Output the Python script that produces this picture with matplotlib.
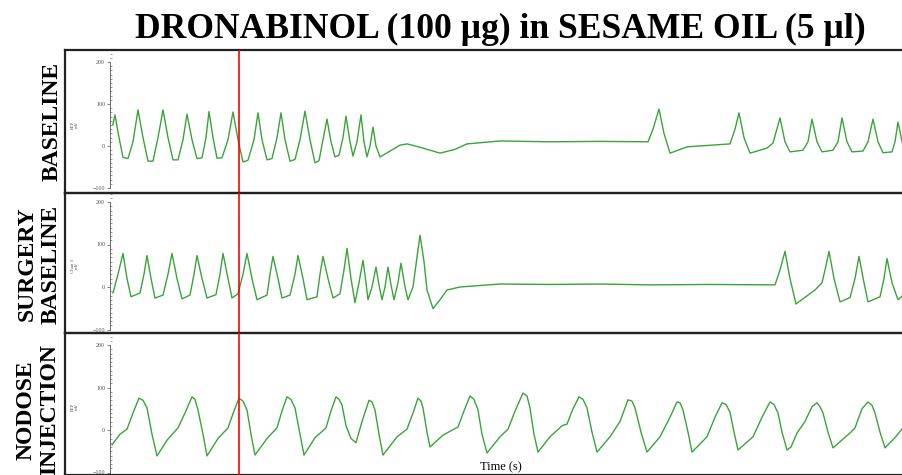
import matplotlib
matplotlib.use('Agg')
import matplotlib.pyplot as plt
from matplotlib.ticker import MultipleLocator

# traces: time (s), signal (uV)
base_t = [0.14, 0.25, 0.45, 0.65, 0.9, 1.15, 1.4, 1.65, 1.9, 2.15, 2.4, 2.65, 2.9, 3.15, 3.4, 3.65,
          3.85, 4.1, 4.35, 4.6, 4.8, 4.95, 5.15, 5.35, 5.6, 5.9, 6.15, 6.4, 6.65, 6.9, 7.2, 7.4,
          7.6, 7.85, 8.1, 8.35, 8.55, 8.75, 9.0, 9.25, 9.5, 9.75, 10.0, 10.25, 10.45, 10.65, 10.85,
          11.05, 11.25, 11.45, 11.65, 11.8, 12.0, 12.15, 12.35, 12.55, 12.7, 12.85, 13.0, 13.15,
          13.3, 13.5, 13.9, 14.5, 14.85, 15.5, 16.5, 17.25, 17.85, 19.5, 22.0, 24.5, 26.9, 27.15,
          27.45, 27.7, 28.0, 28.85, 31.0, 31.25, 31.45, 31.7, 32.0, 32.85, 33.15, 33.5, 33.75, 34.0,
          34.65, 34.9, 35.1, 35.35, 35.6, 36.15, 36.4, 36.6, 36.85, 37.1, 37.65, 37.9, 38.15, 38.4,
          38.65, 39.1, 39.25, 39.4, 39.65]
base_v = [50, 74, 20, -27, -30, 10, 86, 20, -36, -36, 20, 86, 20, -33, -33, 15,
          76, 15, -30, -28, 20, 82, 20, -29, -28, 15, 81, 15, -38, -34, 15, 79,
          15, -33, -30, 20, 79, 15, -36, -32, 15, 83, 15, -40, -35, 15, 64,
          10, -26, -22, 20, 71, 10, -24, 10, 74, 10, -26, 0, 45,
          0, -26, -15, 2, 5, -3, -17, -8, 5, 12, 10, 11, 10, 40,
          88, 30, -17, -2, 5, 40, 79, 20, -17, -5, 7, 67, 10, -14,
          -10, 10, 64, 10, -14, -10, 10, 67, 10, -14, -12, 10, 64, 10,
          -16, -14, 10, 57, 0]

surg_t = [0.15, 0.4, 0.65, 0.85, 1.05, 1.5, 1.7, 1.85, 2.05, 2.25, 2.65, 2.9, 3.1, 3.35, 3.6, 4.0,
          4.2, 4.35, 4.6, 4.85, 5.3, 5.5, 5.65, 5.9, 6.1, 6.4, 6.65, 6.85, 7.1, 7.35, 7.85, 8.0,
          8.15, 8.4, 8.6, 9.0, 9.25, 9.4, 9.65, 9.85, 10.35, 10.5, 10.65, 10.9, 11.15, 11.5, 11.7,
          11.85, 12.05, 12.25, 12.45, 12.65, 12.8, 12.9, 13.1, 13.3, 13.45, 13.6, 13.75, 13.9,
          14.05, 14.2, 14.4, 14.55, 14.75, 14.9, 15.15, 15.35, 15.5, 15.7, 15.85, 16.15, 16.5,
          16.85, 17.5, 19.5, 22.0, 24.5, 27.0, 30.0, 33.25, 33.5, 33.75, 34.0, 34.3, 35.25, 35.6,
          35.8, 35.95, 36.2, 36.5, 37.0, 37.25, 37.45, 37.7, 37.9, 38.5, 38.7, 38.85, 39.1, 39.4,
          39.65]
surg_v = [-14, 30, 79, 20, -23, -14, 30, 74, 20, -26, -19, 30, 79, 20, -28, -19,
          30, 74, 20, -26, -18, 30, 79, 20, -26, -16, 30, 79, 20, -30, -19, 30,
          72, 20, -26, -19, 30, 74, 20, -30, -23, 30, 72, 20, -26, -16, 40,
          91, 20, -37, 10, 63, 10, -30, 0, 47, 5, -30, 0, 47,
          5, -30, 10, 56, 0, -30, 0, 70, 122, 60, -7, -51, -30,
          -7, 0, 7, 6, 7, 5, 6, 5, 40, 84, 20, -40, -7, 10,
          50, 84, 20, -35, -25, 20, 72, 10, -35, -23, 20, 67, 10, -30,
          -20]

nod_t = [0.1, 0.5, 0.85, 1.15, 1.45, 1.65, 1.85, 2.1, 2.35, 2.85, 3.4, 3.75, 4.1, 4.25, 4.4, 4.65,
         4.85, 5.4, 5.9, 6.2, 6.45, 6.65, 6.85, 7.05, 7.25, 7.85, 8.35, 8.6, 8.85, 9.05, 9.25, 9.5,
         9.7, 10.25, 10.8, 11.05, 11.3, 11.45, 11.6, 11.8, 12.05, 12.3, 12.6, 12.95, 13.1, 13.25,
         13.45, 13.65, 14.35, 14.85, 15.15, 15.4, 15.55, 15.65, 15.85, 16.0, 16.65, 17.4, 17.7,
         18.0, 18.2, 18.4, 18.6, 18.85, 19.5, 19.9, 20.3, 20.65, 20.85, 21.0, 21.2, 21.4, 22.0,
         22.6, 22.85, 23.15, 23.45, 23.65, 23.85, 24.1, 24.35, 25.0, 25.5, 25.9, 26.1, 26.25,
         26.55, 26.85, 27.5, 28.0, 28.35, 28.5, 28.65, 28.9, 29.1, 29.85, 30.25, 30.6, 30.8, 31.0,
         31.2, 31.4, 32.15, 32.6, 33.0, 33.2, 33.4, 33.6, 33.85, 34.05, 34.35, 34.75, 35.1, 35.35,
         35.5, 35.65, 35.9, 36.15, 37.0, 37.25, 37.6, 37.9, 38.1, 38.25, 38.5, 38.75, 39.25, 39.65]
nod_v = [-35, -10, 2, 40, 75, 70, 52, -10, -61, -24, 5, 40, 78, 72, 47, -10,
         -61, -20, 5, 45, 75, 68, 47, -10, -59, -20, 5, 45, 78, 72, 52, -10,
         -59, -18, 5, 45, 78, 72, 59, 10, -20, -30, 20, 70, 66, 47,
         -10, -59, -16, 2, 40, 75, 68, 52, -5, -40, -12, 7, 45,
         80, 72, 47, -10, -54, -16, 2, 50, 87, 80, 52, -10, -52, -16,
         10, 14, 50, 78, 72, 52, -5, -52, -16, 20, 71, 68, 52,
         -5, -52, -16, 30, 66, 64, 47, -5, -52, -16, 30, 64, 60, 42,
         -5, -47, -16, 30, 66, 60, 40, -5, -47, -40, -7, 20, 55, 64,
         55, 40, -5, -42, -7, 5, 50, 66, 58, 40, -5, -42, -18, 5]

row_labels = ['BASELINE', 'SURGERY\nBASELINE', 'NODOSE\nINJECTION']
chan_labels = ['EEP\nmV', 'Chan 3\nmV', 'EEP\nmV']
marker_time = 6.45
title = 'DRONABINOL (100 \u00b5g) in SESAME OIL (5 \u00b5l)'

W, H = 903, 475
serif = 'Liberation Serif'

fig = plt.figure(figsize=(W / 100, H / 100), dpi=100)

tops = [50, 193, 333]
bottoms = [193, 333, 475]
zeros = [146, 287, 430]
px_per_uv = [0.42, 0.425, 0.425]
label_x = [52, 39, 38]
label_y = [121, 264, 410]
traces = [(base_t, base_v), (surg_t, surg_v), (nod_t, nod_v)]

for i in range(3):
    top, bot = tops[i], bottoms[i]
    # outer frame
    fr = fig.add_axes([65 / W, 1 - bot / H, 1 - 65 / W + 0.01, (bot - top) / H])
    fr.set_facecolor('none')
    fr.set_xticks([])
    fr.set_yticks([])
    fr.spines['right'].set_visible(False)
    for s in ['left', 'top', 'bottom']:
        fr.spines[s].set_linewidth(1.6)
        fr.spines[s].set_color('#222222')

    ax = fig.add_axes([110 / W, 1 - bot / H, 1 - 110 / W, (bot - top) / H])
    ax.set_facecolor('none')
    t, v = traces[i]
    ax.plot(t, v, color='#3aa43a', lw=1.0)
    ax.axvline(marker_time, color='red', lw=1.2)
    ax.set_xlim(0, 39.65)
    ax.set_ylim((zeros[i] - bot) / px_per_uv[i], (zeros[i] - top) / px_per_uv[i])
    for s in ['top', 'right', 'bottom']:
        ax.spines[s].set_visible(False)
    ax.spines['left'].set_bounds(-100, 200)
    ax.spines['left'].set_linewidth(0.6)
    ax.spines['left'].set_color('#555555')
    ax.set_xticks([])
    ax.set_yticks([-100, 0, 100, 200])
    ax.yaxis.set_minor_locator(MultipleLocator(10))
    ax.tick_params(axis='y', which='major', length=2.5, width=0.5, direction='out',
                   labelsize=4.3, colors='#555555', pad=1)
    ax.tick_params(axis='y', which='minor', length=1.5, width=0.4, direction='in',
                   colors='#555555')
    for lab in ax.get_yticklabels():
        lab.set_family(serif)
    ax.set_ylabel(chan_labels[i], fontsize=3.5, family=serif, color='#555555', linespacing=1.0)
    ax.yaxis.set_label_coords(-0.039, 0.48)

    fig.text(label_x[i] / W, 1 - label_y[i] / H, row_labels[i], rotation=90, ha='center',
             va='center', fontsize=17, fontweight='bold', family=serif, multialignment='center')

fig.text(500 / W, 1 - 38 / H, title, ha='center', va='baseline', fontsize=25.6,
         fontweight='bold', family=serif)
fig.text(501 / W, 1 - 467 / H, 'Time (s)', ha='center', va='center', fontsize=9, family=serif)

fig.savefig('out.png', dpi=100)
